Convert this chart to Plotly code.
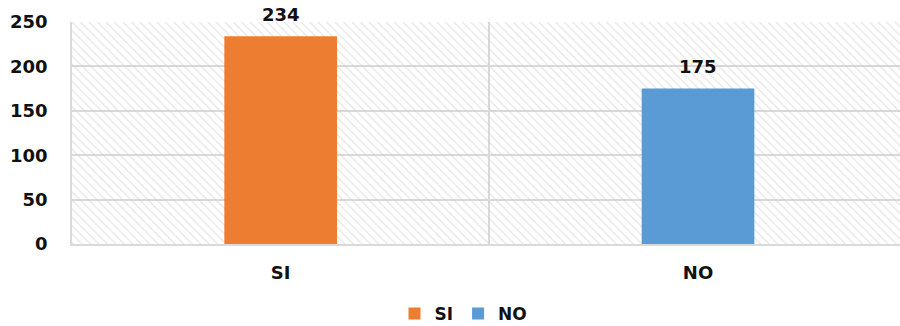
import plotly.graph_objects as go

categories = ["SI", "NO"]
values = [234, 175]
colors = ["#ED7D31", "#5B9BD5"]
y_ticks = [0, 50, 100, 150, 200, 250]
y_max = 250

FONT = "DejaVu Sans"
TXT = "#111111"
fig = go.Figure()

# hatched plot-area background
fig.add_trace(go.Bar(
    x=categories, y=[y_max] * len(categories), width=1,
    marker=dict(color="rgba(0,0,0,0)", line=dict(width=0),
                pattern=dict(shape="\\", fgcolor="#cdcdcd", bgcolor="rgba(0,0,0,0)",
                             size=6, solidity=0.22)),
    showlegend=False, hoverinfo="skip"))

for cat, val, col in zip(categories, values, colors):
    fig.add_trace(go.Bar(
        x=[cat], y=[val], name=cat, width=0.27,
        marker=dict(color=col, line=dict(width=0)),
        hoverinfo="x+y"))
    fig.add_annotation(
        x=cat, y=val, text=str(val), showarrow=False,
        yanchor="middle", yshift=22,
        font=dict(family=FONT, size=18, color=TXT, weight="bold"))

fig.update_layout(
    width=900, height=326,
    margin=dict(l=72, r=0, t=22, b=82),
    paper_bgcolor="white", plot_bgcolor="white",
    barmode="overlay",
    font=dict(family=FONT, size=17, color=TXT, weight="bold"),
    legend=dict(orientation="h", xref="container", x=0.515, xanchor="center",
                yref="container", y=0.037, yanchor="middle",
                font=dict(family=FONT, size=17, color=TXT, weight="bold"),
                itemwidth=30, traceorder="normal"),
    xaxis=dict(type="category", range=[-0.5, 1.484], tickson="boundaries",
               showgrid=True, gridcolor="#d9d9d9", gridwidth=1.5,
               showline=True, linecolor="#d9d9d9", linewidth=1.5,
               ticks="", ticklabelstandoff=12,
               tickfont=dict(family=FONT, size=18, color=TXT, weight="bold")),
    yaxis=dict(range=[0, y_max], tickvals=y_ticks, showgrid=True,
               gridcolor="#d9d9d9", gridwidth=1.5, zeroline=False,
               showline=True, linecolor="#d9d9d9", linewidth=1.5,
               ticks="", ticklabelstandoff=19,
               tickfont=dict(family=FONT, size=18, color=TXT, weight="bold")),
)

fig.write_html("out.html")
